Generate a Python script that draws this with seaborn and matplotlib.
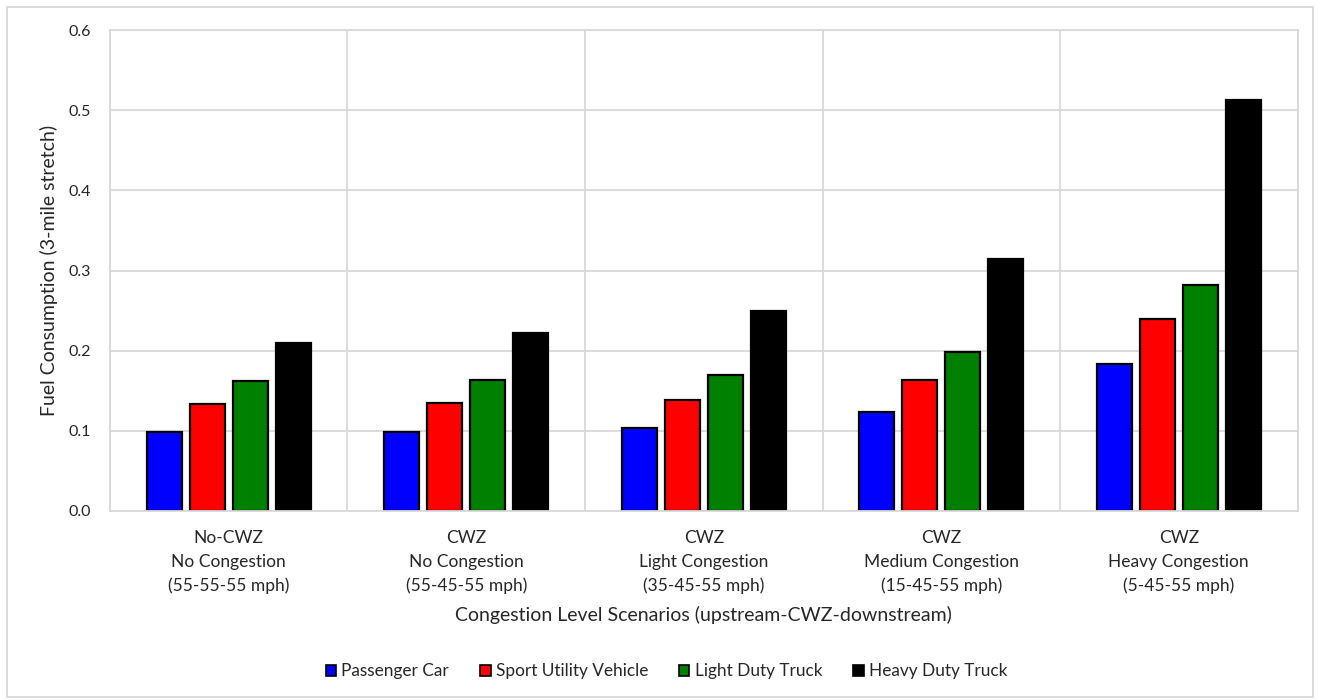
import matplotlib
matplotlib.use("Agg")
import matplotlib.pyplot as plt
import matplotlib.patches as mpatches
from matplotlib.ticker import MultipleLocator, FixedLocator, FormatStrFormatter
import seaborn as sns
import pandas as pd

scenarios = [
    "No-CWZ\nNo Congestion\n(55-55-55 mph)",
    "CWZ\nNo Congestion\n(55-45-55 mph)",
    "CWZ\nLight Congestion\n(35-45-55 mph)",
    "CWZ\nMedium Congestion\n(15-45-55 mph)",
    "CWZ\nHeavy Congestion\n(5-45-55 mph)",
]
vehicles = ["Passenger Car", "Sport Utility Vehicle", "Light Duty Truck", "Heavy Duty Truck"]
passenger_car = [0.098, 0.099, 0.103, 0.123, 0.183]
suv = [0.133, 0.135, 0.138, 0.163, 0.239]
light_truck = [0.162, 0.163, 0.170, 0.199, 0.282]
heavy_truck = [0.209, 0.222, 0.249, 0.314, 0.513]
colors = ["#0000ff", "#ff0000", "#008000", "#000000"]

series = [passenger_car, suv, light_truck, heavy_truck]
rows = []
for veh, vals in zip(vehicles, series):
    for sc, v in zip(scenarios, vals):
        rows.append({"Scenario": sc, "Vehicle": veh, "Fuel": v})
df = pd.DataFrame(rows)

sns.set_theme(style="white")
plt.rcParams["font.family"] = ["Lato", "DejaVu Sans"]

text_c = "#262626"
grid_c = "#d9d9d9"

fig = plt.figure(figsize=(13.2, 7), dpi=100)
ax = fig.add_axes([0.0833, 0.27, 0.8997, 0.687])

sns.barplot(data=df, x="Scenario", y="Fuel", hue="Vehicle", order=scenarios,
            hue_order=vehicles, palette=colors, saturation=1, width=0.724, gap=0.19,
            edgecolor="black", linewidth=1.6, ax=ax, legend=False)

ax.set_xlim(-0.5, len(scenarios) - 0.5)
ax.set_ylim(0, 0.6)
ax.yaxis.set_major_locator(MultipleLocator(0.1))
ax.yaxis.set_major_formatter(FormatStrFormatter("%.1f"))
ax.xaxis.set_minor_locator(FixedLocator([i + 0.5 for i in range(-1, len(scenarios))]))
ax.grid(True, axis="y", which="major", color=grid_c, linewidth=1.3)
ax.grid(True, axis="x", which="minor", color=grid_c, linewidth=1.3)
ax.grid(False, axis="x", which="major")
ax.set_axisbelow(True)
for s in ax.spines.values():
    s.set_color(grid_c)
    s.set_linewidth(1.3)
ax.tick_params(axis="both", which="both", length=0, colors=text_c)
ax.tick_params(axis="x", labelsize=12.5, pad=13.5)
ax.tick_params(axis="y", labelsize=11.5, pad=14)
for lbl in ax.get_xticklabels():
    lbl.set_linespacing(1.6)

ax.set_xlabel("Congestion Level Scenarios (upstream-CWZ-downstream)", fontsize=14, color=text_c)
ax.set_ylabel("Fuel Consumption (3-mile stretch)", fontsize=14, color=text_c)
ax.xaxis.set_label_coords(0.5, -0.1975)
ax.yaxis.set_label_coords(-0.0437, 0.5)

handles = [mpatches.Patch(facecolor=c, edgecolor="black", linewidth=1.2, label=v)
           for c, v in zip(colors, vehicles)]
fig.legend(handles=handles, loc="center", bbox_to_anchor=(0.505, 0.041), ncol=4,
           frameon=False, fontsize=12.4, handlelength=0.6, handleheight=0.6,
           handletextpad=0.3, columnspacing=1.8, labelcolor=text_c)

fig.patches.append(mpatches.Rectangle((0.005, 0.005), 0.99, 0.985, transform=fig.transFigure,
                                      fill=False, edgecolor=grid_c, linewidth=1.3))

fig.savefig("out.png", dpi=100, facecolor="white")
